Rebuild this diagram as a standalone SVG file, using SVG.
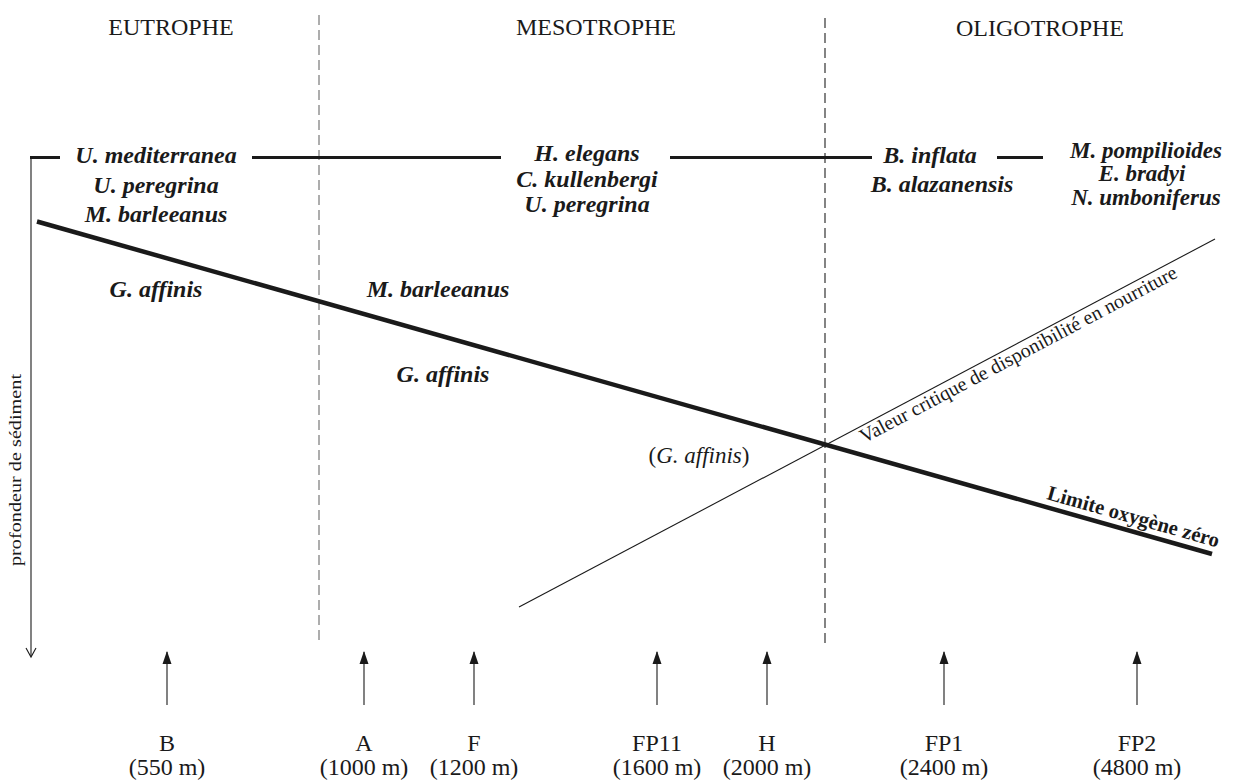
<svg xmlns="http://www.w3.org/2000/svg" width="1234" height="781" viewBox="0 0 1234 781">
<style>
text{font-family:"Liberation Serif","Times New Roman",serif;fill:#1a1a1a}
.hdr{font-size:24px;text-anchor:middle}
.sp{font-size:24px;font-weight:bold;font-style:italic;text-anchor:middle}
.sp2{font-size:23px;font-weight:bold;font-style:italic;text-anchor:middle}
.st{font-size:24px;text-anchor:middle}
.dash{stroke-width:1.2;stroke-dasharray:10,5;fill:none}
.bar{stroke:#1a1a1a;stroke-width:3;fill:none}
.arr{stroke:#1a1a1a;stroke-width:1.1;fill:none}
</style>
<defs>
<marker id="ah" markerWidth="10" markerHeight="14" refX="5" refY="1" orient="0" markerUnits="userSpaceOnUse">
<path d="M5,0 L9.5,13 L0.5,13 Z" fill="#1a1a1a"/>
</marker>
</defs>
<rect width="1234" height="781" fill="#fff"/>
<g id="zones">
<text class="hdr" x="171" y="35">EUTROPHE</text>
<text class="hdr" x="596" y="35">MESOTROPHE</text>
<text class="hdr" x="1040" y="36">OLIGOTROPHE</text>
<line class="dash" x1="319" y1="15" x2="319" y2="643" stroke="#777"/>
<line class="dash" x1="825" y1="18" x2="825" y2="643" stroke="#333"/>
</g>
<g id="axis">
<path class="bar" d="M30,157.5 H60 M252,157.5 H501 M670,157.5 H872 M997,157.5 H1043"/>
<line x1="31" y1="157" x2="31" y2="656" stroke="#1a1a1a" stroke-width="1.1"/>
<path d="M26,648 L31,657 L36,648" stroke="#1a1a1a" stroke-width="1.1" fill="none"/>
<text font-size="17" text-anchor="middle" textLength="192" lengthAdjust="spacingAndGlyphs" transform="translate(21,470) rotate(-90)">profondeur de sédiment</text>
</g>
<g id="limite-oxygene">
<line x1="37" y1="221.5" x2="1212" y2="554" stroke="#1a1a1a" stroke-width="4.5"/>
<text font-size="21" font-weight="bold" textLength="178" lengthAdjust="spacingAndGlyphs" transform="translate(1046,499) rotate(15.8)">Limite oxygène zéro</text>
</g>
<g id="valeur-critique">
<line x1="519" y1="607" x2="1215" y2="239" stroke="#1a1a1a" stroke-width="1.1"/>
<text font-size="20" textLength="356" lengthAdjust="spacingAndGlyphs" transform="translate(864,443.5) rotate(-27.9)">Valeur critique de disponibilité en nourriture</text>
</g>
<g id="species-eutrophe">
<text class="sp" x="156" y="163">U. mediterranea</text>
<text class="sp" x="156" y="193">U. peregrina</text>
<text class="sp" x="156" y="222">M. barleeanus</text>
<text class="sp" x="156" y="297">G. affinis</text>
</g>
<g id="species-mesotrophe">
<text class="sp" x="587" y="161">H. elegans</text>
<text class="sp" x="587" y="187">C. kullenbergi</text>
<text class="sp" x="587" y="212">U. peregrina</text>
<text class="sp" x="438" y="297">M. barleeanus</text>
<text class="sp" x="443" y="382">G. affinis</text>
<text font-size="23" text-anchor="middle" x="699" y="463">(<tspan font-style="italic">G. affinis</tspan>)</text>
</g>
<g id="species-oligotrophe">
<text class="sp" x="930" y="163">B. inflata</text>
<text class="sp" x="942" y="192">B. alazanensis</text>
<text class="sp2" x="1146" y="158">M. pompilioides</text>
<text class="sp2" x="1142" y="181">E. bradyi</text>
<text class="sp2" x="1146" y="205">N. umboniferus</text>
</g>
<g id="connectors">
<line class="arr" x1="167" y1="705" x2="167" y2="652" marker-end="url(#ah)"/>
<line class="arr" x1="364" y1="705" x2="364" y2="652" marker-end="url(#ah)"/>
<line class="arr" x1="474" y1="705" x2="474" y2="652" marker-end="url(#ah)"/>
<line class="arr" x1="657" y1="705" x2="657" y2="652" marker-end="url(#ah)"/>
<line class="arr" x1="767" y1="705" x2="767" y2="652" marker-end="url(#ah)"/>
<line class="arr" x1="944" y1="705" x2="944" y2="652" marker-end="url(#ah)"/>
<line class="arr" x1="1137" y1="705" x2="1137" y2="652" marker-end="url(#ah)"/>
</g>
<g id="station-B"><text class="st" x="167" y="751">B</text><text class="st" x="167" y="775">(550 m)</text></g>
<g id="station-A"><text class="st" x="364" y="751">A</text><text class="st" x="364" y="775">(1000 m)</text></g>
<g id="station-F"><text class="st" x="474" y="751">F</text><text class="st" x="474" y="775">(1200 m)</text></g>
<g id="station-FP11"><text class="st" x="657" y="751">FP11</text><text class="st" x="657" y="775">(1600 m)</text></g>
<g id="station-H"><text class="st" x="767" y="751">H</text><text class="st" x="767" y="775">(2000 m)</text></g>
<g id="station-FP1"><text class="st" x="944" y="751">FP1</text><text class="st" x="944" y="775">(2400 m)</text></g>
<g id="station-FP2"><text class="st" x="1137" y="751">FP2</text><text class="st" x="1137" y="775">(4800 m)</text></g>
</svg>
